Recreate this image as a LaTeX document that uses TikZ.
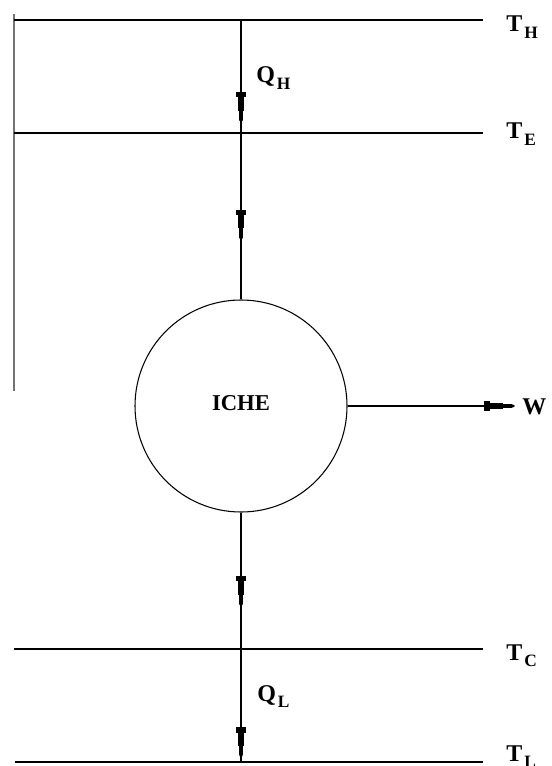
\documentclass[tikz,border=0pt]{standalone}
\usepackage{fontspec}
\setmainfont{Liberation Serif}
\usetikzlibrary{positioning,arrows.meta,decorations.markings,calc}
\tikzset{
    heat/.tip={Rectangle[length=4pt,width=7pt]Rectangle[length=10pt,width=5pt]Rectangle[length=7pt,width=2.6pt]Triangle[length=2pt,width=2.6pt]},
    level/.style={line width=1.1pt},
    wall/.style={line width=0.9pt,black!55},
    flow/.style={line width=0.8pt},
    flowmark/.style={postaction={decorate,decoration={markings,mark=at position #1 with {\arrow{heat}}}}},
    engine/.style={circle,draw,line width=0.8pt,minimum size=159pt,inner sep=0pt},
    lbl/.style={anchor=base west,inner sep=0pt,font=\fontsize{18}{18}\selectfont\bfseries},
}
\newcommand{\lvl}[2]{#1\hspace{1.5pt}\raisebox{-5pt}{\fontsize{13}{13}\selectfont #2}}

\begin{document}
\begin{tikzpicture}[x=0.75pt,y=-0.75pt]
\useasboundingbox (0,0) rectangle (551,766);
% reservoir levels
\coordinate (thL) at (14,20);  \coordinate (thR) at (483,20);
\coordinate (teL) at (14,133); \coordinate (teR) at (483,133);
\coordinate (tcL) at (14,649); \coordinate (tcR) at (483,649);
\coordinate (tlL) at (15,762); \coordinate (tlR) at (483,762);
\coordinate (wallT) at (14,14); \coordinate (wallB) at (14,391);
\coordinate (wtip) at (515,406);

\node[engine,font=\fontsize{17}{17}\selectfont\bfseries] (iche) at (241,406) {\raisebox{4pt}{ICHE}};

\draw[wall] (wallT) -- (wallB);
\draw[level] (thL) -- (thR);
\draw[level] (teL) -- (teR);
\draw[level] (tcL) -- (tcR);
\draw[level] (tlL) -- (tlR);

\node[lbl] (th) at (506,32)  {\lvl{T}{H}};
\node[lbl] (te) at (506,139) {\lvl{T}{E}};
\node[lbl] (tc) at (506,660) {\lvl{T}{C}};
\node[lbl] (tl) at (506,761) {\lvl{T}{L}};
\node[lbl] (qh) at (256,83)  {\lvl{Q}{H}};
\node[lbl] (ql) at (257,701) {\lvl{Q}{L}};
\node[lbl] (w)  at (522,414) {W};

% heat and work flows
\draw[flow,flowmark=0.91]  (iche |- thL) -- (iche |- teL);
\draw[flow,flowmark=0.645] (iche |- teL) -- (iche.north);
\draw[flow,flowmark=0.69]  (iche.south) -- (iche |- tcL);
\draw[flow,flowmark=0.965] (iche |- tcL) -- (iche |- tlL);
\draw[flow,-{heat}] (iche.east) -- (wtip);
\end{tikzpicture}
\end{document}
